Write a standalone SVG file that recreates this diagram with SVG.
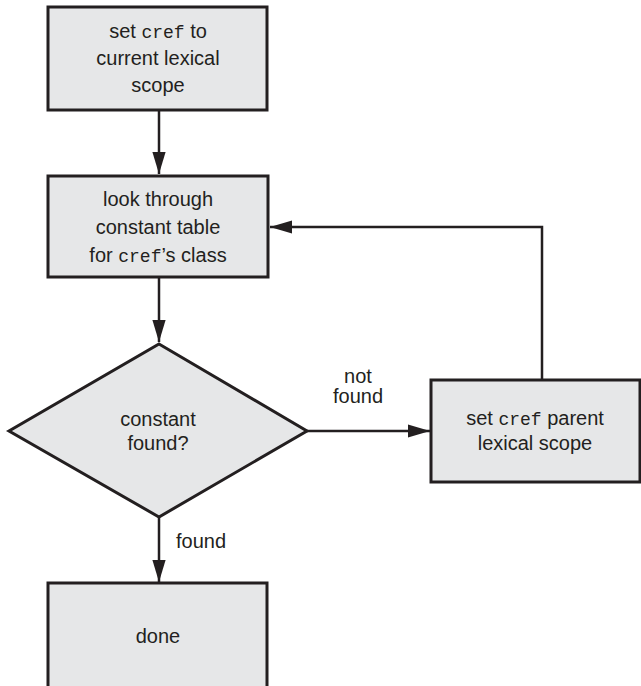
<svg xmlns="http://www.w3.org/2000/svg" width="641" height="686" viewBox="0 0 641 686">
<style>
.box{fill:#e6e7e8;stroke:#231f20;stroke-width:3}
.t{font-family:"Liberation Sans",Arial,sans-serif;font-size:20px;fill:#231f20;text-anchor:middle}
.m{font-family:"Liberation Mono","Courier New",monospace;font-size:18px}
.c{fill:none;stroke:#231f20;stroke-width:2.5}
</style>
<defs>
<marker id="ah" markerUnits="userSpaceOnUse" markerWidth="22" markerHeight="14" viewBox="0 0 20 12" refX="20" refY="6" orient="auto">
<path d="M0,0 L20,6 L0,12 Z" fill="#231f20"/>
</marker>
</defs>
<rect width="641" height="686" fill="#ffffff"/>
<g id="connectors">
<path class="c" d="M159,110 V174" marker-end="url(#ah)"/>
<path class="c" d="M159,278 V342" marker-end="url(#ah)"/>
<path class="c" d="M159,517 V582" marker-end="url(#ah)"/>
<path class="c" d="M307,431 H430" marker-end="url(#ah)"/>
<path class="c" d="M542,380 V227 H270" marker-end="url(#ah)"/>
<text class="t" x="358" y="383">not</text>
<text class="t" x="358" y="403">found</text>
<text class="t" x="201" y="548">found</text>
</g>
<g id="n1">
<rect class="box" x="48" y="7" width="219" height="103"/>
<text class="t" x="158" y="38">set <tspan class="m">cref</tspan> to</text>
<text class="t" x="158" y="65">current lexical</text>
<text class="t" x="158" y="92">scope</text>
</g>
<g id="n2">
<rect class="box" x="48" y="176" width="220" height="101"/>
<text class="t" x="158" y="206">look through</text>
<text class="t" x="158" y="234">constant table</text>
<text class="t" x="158" y="262">for <tspan class="m">cref</tspan>’s class</text>
</g>
<g id="n3">
<polygon class="box" points="159,344 307,431 159,517 9,431"/>
<text class="t" x="158" y="426">constant</text>
<text class="t" x="158" y="450">found?</text>
</g>
<g id="n4">
<rect class="box" x="431" y="380" width="209" height="102"/>
<text class="t" x="535" y="425">set <tspan class="m">cref</tspan> parent</text>
<text class="t" x="535" y="450">lexical scope</text>
</g>
<g id="n5">
<rect class="box" x="48" y="583" width="219" height="110"/>
<text class="t" x="158" y="643">done</text>
</g>
</svg>
